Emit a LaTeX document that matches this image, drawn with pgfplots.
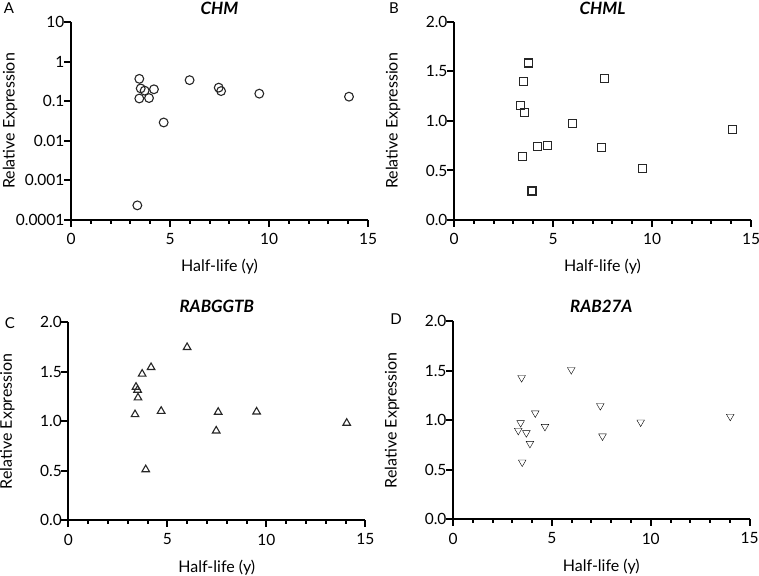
\documentclass[border=0pt]{standalone}
\usepackage{pgfplots}
\pgfplotsset{compat=1.18}
\usepackage{fontspec}
\setmainfont{Lato}

\pgfplotsset{
  prism/.style={
    scale only axis, width=297pt, height=198pt, anchor=south west,
    axis x line*=bottom, axis y line*=left,
    axis line style={draw=none},
    tick style={draw=none},
    tick align=outside, major tick length=7pt, minor tick length=4pt,
    xmin=0, xmax=15, xtick={0,5,10,15}, xticklabels={0,5,10,15},
    minor x tick num=4,
    ticklabel style={font=\fontsize{15.5}{16}\selectfont, black},
    yticklabel style={xshift=4pt},
    xticklabel style={yshift=-3pt},
    xlabel={Half-life (y)}, ylabel={Relative Expression},
    every axis x label/.style={at={(axis description cs:0.5,0)}, anchor=center, yshift=-47pt, font=\fontsize{16}{16}\selectfont},
    every axis y label/.style={at={(axis description cs:0,0.5)}, rotate=90, anchor=center, yshift=61pt, font=\fontsize{16}{16}\selectfont},
    every axis title/.style={at={(axis description cs:0.5,1)}, anchor=center, yshift=14pt, font=\bfseries\itshape\fontsize{17}{17}\selectfont},
    clip=false,
  },
  lin/.style={ymin=0, ymax=2, ytick={0,0.5,1,1.5,2}, yticklabels={0.0,0.5,1.0,1.5,2.0}},
  mk/.style={only marks, mark options={draw=black!85, fill=none, line width=1.1pt, solid}},
}

% axis frame: x0, y0, width, number of y intervals
\newcommand\prismframe[4]{%
\begin{scope}[x=1pt,y=1pt]
\draw[line width=2.2pt, line join=miter] (#1,#2+198) -- (#1,#2) -- (#1+#3,#2);
\foreach \k in {0,...,15}{%
  \pgfmathsetmacro\tl{ifthenelse(mod(\k,5)==0,7,4)}%
  \draw[line width=2pt] ({#1+\k*#3/15},#2) -- ++(0,-\tl);}
\foreach \j in {0,...,#4}{%
  \draw[line width=2pt] (#1,{#2+\j*198/#4}) -- ++(-7,0);}
\end{scope}}

\begin{document}
\begin{tikzpicture}

% Panel A
\begin{axis}[prism, at={(71pt,355pt)}, title={CHM},
  ymode=log, ymin=1e-4, ymax=10, ytick={1e-4,1e-3,1e-2,1e-1,1,10},
  yticklabels={0.0001,0.001,0.01,0.1,1,10}, yminorticks=false]
\addplot[mk, mark=o, mark size=4.4pt] coordinates {
(3.45,0.367) (3.52,0.21) (3.72,0.185) (3.45,0.117) (3.94,0.12) (4.19,0.20)
(4.68,0.029) (5.99,0.34) (7.46,0.22) (7.58,0.18) (9.51,0.155) (14.04,0.13)
(3.35,0.000234)};
\end{axis}
\prismframe{71}{355}{297}{5}

% Panel B
\begin{axis}[prism, lin, at={(454pt,355pt)}, title={CHML}]
\addplot[mk, mark=square, mark size=4pt] coordinates {
(3.75,1.586) (3.52,1.397) (3.37,1.161) (3.56,1.083) (3.45,0.645) (3.94,0.293)
(4.21,0.739) (4.70,0.756) (5.99,0.972) (7.59,1.427) (7.47,0.732) (9.53,0.523)
(14.06,0.918)};
\end{axis}
\prismframe{454}{355}{297}{4}

% Panel C
\begin{axis}[prism, lin, at={(68.3pt,54.7pt)}, title={RABGGTB},
  every axis title/.append style={yshift=2pt}]
\addplot[mk, mark=triangle, mark size=4.4pt] coordinates {
(6.00,1.747) (4.18,1.545) (3.73,1.478) (3.42,1.346) (3.50,1.316) (3.52,1.238)
(3.37,1.069) (4.69,1.103) (7.57,1.093) (7.47,0.904) (9.51,1.096) (14.06,0.982)
(3.91,0.513)};
\end{axis}
\prismframe{68.3}{54.7}{297}{4}

% Panel D
\begin{axis}[prism, lin, at={(453pt,55.7pt)}, width=296.6pt, title={RAB27A},
  every axis title/.append style={yshift=1pt}]
\addplot[mk, mark=triangle, mark size=4.4pt, mark options={rotate=180}] coordinates {
(5.98,1.511) (3.47,1.43) (7.45,1.147) (4.16,1.073) (14.02,1.039) (9.49,0.981)
(3.42,0.975) (4.65,0.937) (3.30,0.897) (3.71,0.873) (7.56,0.84) (3.89,0.765)
(3.50,0.577)};
\end{axis}
\prismframe{453}{55.7}{296.6}{4}

\node[font=\fontsize{15}{15}\selectfont] at (9pt,567pt) {A};
\node[font=\fontsize{15}{15}\selectfont] at (394pt,567pt) {B};
\node[font=\fontsize{15}{15}\selectfont] at (10pt,252pt) {C};
\node[font=\fontsize{15}{15}\selectfont] at (396pt,256pt) {D};

\pgfresetboundingbox
\path (0pt,0pt) rectangle (759pt,575pt);
\end{tikzpicture}
\end{document}
